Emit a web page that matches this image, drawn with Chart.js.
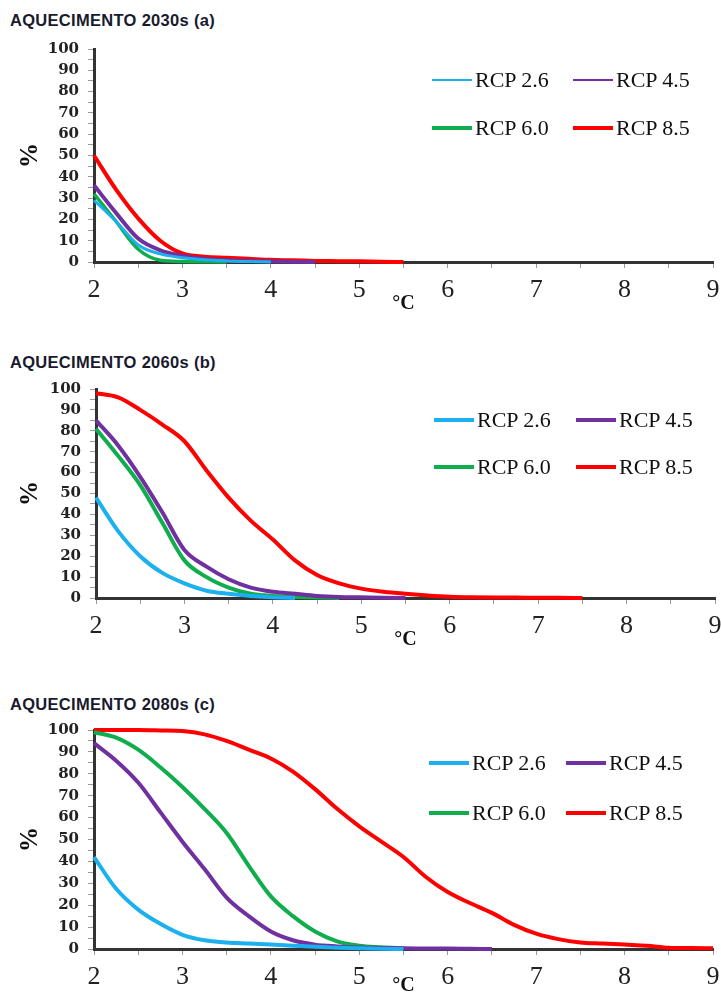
<!DOCTYPE html>
<html>
<head>
<meta charset="utf-8">
<script src="https://cdn.jsdelivr.net/npm/chart.js@4.4.1/dist/chart.umd.min.js"></script>
<style>
  body { margin: 0; width: 721px; height: 998px; background: #fff; position: relative; overflow: hidden; }
  .title { position: absolute; left: 10px; font: bold 16.5px "Liberation Sans", Arial, sans-serif; color: #1a1a2e;
           line-height: 18px; letter-spacing: 0.3px; white-space: nowrap; }
  canvas { position: absolute; left: 0; }
  .item { position: absolute; height: 26px; display: flex; align-items: center; white-space: nowrap;
          font: 22px "Liberation Serif", serif; color: #111; }
  .item i { display: inline-block; width: 40px; margin-right: 3px; }
</style>
</head>
<body>
<div class="title" style="top:11px">AQUECIMENTO 2030s (a)</div>
<div class="title" style="top:353px">AQUECIMENTO 2060s (b)</div>
<div class="title" style="top:695px">AQUECIMENTO 2080s (c)</div>
<canvas id="chartA" width="721" height="290" style="top:30px"></canvas>
<canvas id="chartB" width="721" height="290" style="top:370px"></canvas>
<canvas id="chartC" width="721" height="286" style="top:712px"></canvas>
<script>
// temperature (ºC) for every point
const temps = [2, 2.25, 2.5, 2.75, 3, 3.25, 3.5, 3.75, 4, 4.25, 4.5, 4.75, 5, 5.25, 5.5,
  5.75, 6, 6.25, 6.5, 6.75, 7, 7.25, 7.5, 7.75, 8, 8.25, 8.5, 8.75, 9];

const names = ["RCP 2.6", "RCP 4.5", "RCP 6.0", "RCP 8.5"];
const colors = ["#1cb0ee", "#7030a0", "#10ad4c", "#ff0000"];

// 2030s
const rcp26_2030 = [29, 19, 8, 3.8, 2, 1, 0.5, 0.2, 0];
const rcp45_2030 = [36, 23, 11, 5.5, 3, 1.5, 0.8, 0.5, 0.3, 0.1, 0];
const rcp60_2030 = [32, 19, 6, 0.8, 0.2, 0.1, 0];
const rcp85_2030 = [50, 34, 20.5, 10, 4, 2.5, 2, 1.5, 1, 0.8, 0.5, 0.4, 0.3, 0.1, 0];

// 2060s
const rcp26_2060 = [48, 32, 20, 12, 7, 3.5, 2, 1, 0.3, 0];
const rcp45_2060 = [85, 73, 58, 41, 23, 15, 9, 5, 3, 2, 1, 0.5, 0.3, 0.1, 0];
const rcp60_2060 = [81, 68, 54, 36, 18, 10, 5, 2, 1, 0.5, 0.2, 0];
const rcp85_2060 = [98, 96, 90, 83, 75, 61, 48, 37, 28, 18, 11, 7, 4.5, 3, 2, 1.2, 0.6, 0.3, 0.2, 0.2, 0.1, 0.1, 0];

// 2080s
const rcp26_2080 = [42, 27.5, 18, 11.5, 6.5, 4, 3, 2.5, 2, 1.5, 1, 0.6, 0.3, 0.1, 0];
const rcp45_2080 = [94, 86, 76, 62.5, 49, 36.5, 23.5, 15, 8, 4, 2, 1.2, 0.7, 0.5, 0.3, 0.2, 0.2, 0.1, 0];
const rcp60_2080 = [99, 96.5, 91, 83, 74, 64, 53, 38, 24, 15, 8, 3.5, 1.5, 0.8, 0.3];
const rcp85_2080 = [100, 100, 100, 99.8, 99.5, 98, 95, 91, 87, 81, 73, 64, 56, 49, 42, 33,
  26, 21, 16.5, 11, 7, 4.5, 3, 2.5, 2, 1.5, 0.6, 0.4, 0.3];

function toPoints(vals) {
  return vals.map((v, i) => ({ x: temps[i], y: v }));
}

function drawPanel(id, series, widths, box) {
  const datasets = series.map((s, i) => ({
    label: names[i],
    data: toPoints(s),
    borderColor: colors[i],
    borderWidth: widths[i],
    pointRadius: 0,
    cubicInterpolationMode: "monotone",
    clip: false
  }));
  new Chart(document.getElementById(id), {
    type: "line",
    data: { datasets: datasets },
    options: {
      responsive: false,
      animation: false,
      layout: { padding: { top: box.top, right: box.right, left: 0, bottom: 0 } },
      plugins: { legend: { display: false }, tooltip: { enabled: false } },
      scales: {
        x: {
          type: "linear", min: 2, max: 9,
          afterFit: s => { s.height = box.xh; s.paddingLeft = 0; s.paddingRight = 0; },
          border: { color: "#333", width: 3 },
          grid: { drawOnChartArea: false, tickLength: 6, color: "#999" },
          ticks: {
            stepSize: 0.5, autoSkip: false, maxRotation: 0, padding: 7,
            color: "#222", font: { family: "Liberation Serif", size: 26 },
            callback: v => Number.isInteger(v) ? v : ""
          },
          title: {
            display: true, text: "°C", color: "#111",
            font: { family: "Liberation Serif", size: 20, weight: "bold" },
            padding: { top: 0, bottom: box.cpad }
          }
        },
        y: {
          min: 0, max: 100,
          afterFit: s => { s.width = box.left; },
          border: { color: "#333", width: 3 },
          grid: { drawOnChartArea: false, tickLength: 6, color: "#999" },
          ticks: {
            stepSize: 5, autoSkip: false, padding: 9,
            color: "#222", font: { family: "DejaVu Serif", size: 15, weight: "bold" },
            callback: v => v % 10 === 0 ? v : ""
          },
          title: {
            display: true, text: "%", color: "#111",
            font: { family: "Liberation Serif", size: 25, weight: "bold" },
            padding: { top: 16, bottom: 0 }
          }
        }
      }
    }
  });
}

function drawLegend(x1, x2, y1, y2, widths) {
  const spots = [[x1, y1], [x2, y1], [x1, y2], [x2, y2]];
  names.forEach((n, i) => {
    const d = document.createElement("div");
    d.className = "item";
    d.style.left = spots[i][0] + "px";
    d.style.top = (spots[i][1] - 13) + "px";
    d.innerHTML = '<i style="height:' + widths[i] + 'px;background:' + colors[i] + '"></i>' + n;
    document.body.appendChild(d);
  });
}

drawPanel("chartA", [rcp26_2030, rcp45_2030, rcp60_2030, rcp85_2030], [3, 4, 3.5, 4],
  { top: 19, right: 8, left: 94, xh: 58, cpad: 4 });
drawPanel("chartB", [rcp26_2060, rcp45_2060, rcp60_2060, rcp85_2060], [4, 4, 4, 4],
  { top: 19, right: 6, left: 96, xh: 62, cpad: 8 });
drawPanel("chartC", [rcp26_2080, rcp45_2080, rcp60_2080, rcp85_2080], [4, 4, 4, 4],
  { top: 18, right: 8, left: 94, xh: 49, cpad: 0 });

drawLegend(432, 573, 80, 128, [1.5, 1.5, 4, 4]);
drawLegend(434, 576, 420, 467, [4, 4, 4, 4]);
drawLegend(429, 566, 763, 813, [4, 4, 4, 4]);
</script>
</body>
</html>
